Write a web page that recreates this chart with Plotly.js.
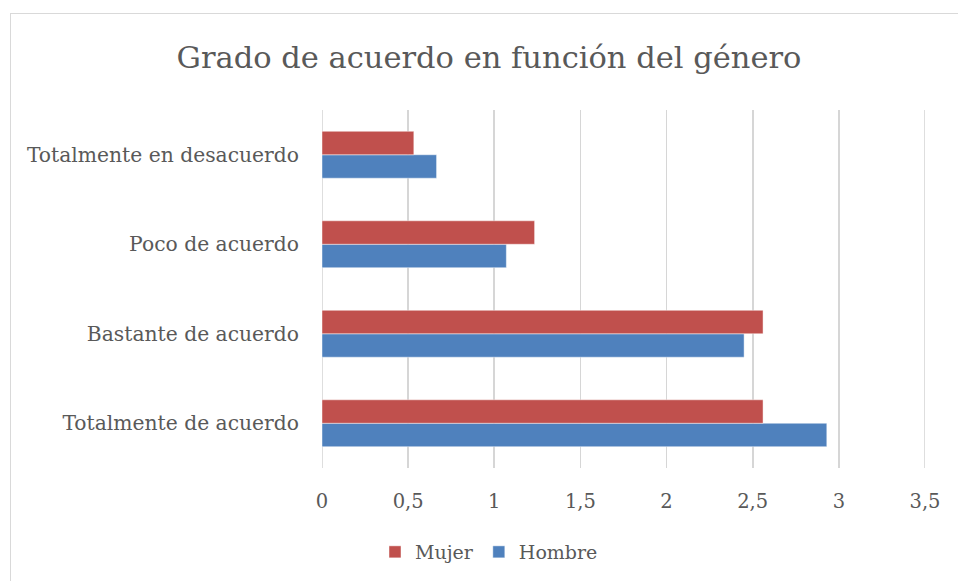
<!DOCTYPE html>
<html>
<head>
<meta charset="utf-8">
<script src="https://cdn.plot.ly/plotly-3.0.1.min.js"></script>
<style>
  html, body { margin: 0; padding: 0; background: #ffffff; overflow: hidden; }
  #chart { width: 958px; height: 581px; }
  #frame { position: absolute; left: 10px; top: 13px; width: 1000px; height: 620px;
           border: 1px solid #d9d9d9; pointer-events: none; }
</style>
</head>
<body>
<div id="chart"></div>
<div id="frame"></div>
<script>
const categories = ["Totalmente de acuerdo", "Bastante de acuerdo", "Poco de acuerdo", "Totalmente en desacuerdo"];
const hombre = [2.93, 2.45, 1.07, 0.665];
const mujer = [2.56, 2.56, 1.234, 0.533];
const xTicks = [0, 0.5, 1, 1.5, 2, 2.5, 3, 3.5];
const titleText = "Grado de acuerdo en función del género";

const FONT = "DejaVu Serif";
const TXT = "#595959";
const GRID = "#D6D6D6";

const traces = [
  { type: "bar", orientation: "h", name: "Hombre", y: categories, x: hombre,
    marker: { color: "#4F81BD", line: { color: "rgba(255,255,255,0.45)", width: 1 } },
    hoverinfo: "x+name" },
  { type: "bar", orientation: "h", name: "Mujer", y: categories, x: mujer,
    marker: { color: "#C0504D", line: { color: "rgba(255,255,255,0.45)", width: 1 } },
    hoverinfo: "x+name" }
];

const layout = {
  width: 958, height: 581, autosize: false,
  separators: ",.",
  paper_bgcolor: "#ffffff", plot_bgcolor: "#ffffff",
  margin: { l: 322, r: 33, t: 110, b: 113, pad: 0 },
  font: { family: FONT, color: TXT, size: 20 },
  title: {
    text: titleText,
    font: { family: FONT, size: 30.5, color: TXT },
    x: 489 / 958, xref: "container", xanchor: "center",
    y: 1 - 57 / 581, yref: "container", yanchor: "middle"
  },
  barmode: "group",
  bargap: 0.476,
  bargroupgap: 0,
  xaxis: {
    range: [0, 3.5],
    tickvals: xTicks,
    ticktext: xTicks.map(v => String(v).replace(".", ",")),
    showgrid: true, gridcolor: GRID, gridwidth: 1.6,
    zeroline: false, showline: false, ticks: "",
    ticklabelstandoff: 19,
    tickfont: { family: FONT, size: 19.5, color: TXT },
    fixedrange: true
  },
  yaxis: {
    type: "category",
    showgrid: false, zeroline: false, showline: false, ticks: "",
    ticklabelstandoff: 22,
    tickfont: { family: FONT, size: 20.3, color: TXT },
    fixedrange: true
  },
  shapes: [
    { type: "line", xref: "x", yref: "paper", x0: xTicks[0], x1: xTicks[0], y0: 0, y1: 1,
      line: { color: GRID, width: 1.6 }, layer: "below" },
    { type: "line", xref: "x", yref: "paper", x0: xTicks[xTicks.length - 1], x1: xTicks[xTicks.length - 1], y0: 0, y1: 1,
      line: { color: GRID, width: 1.6 }, layer: "below" }
  ],
  showlegend: true,
  legend: {
    orientation: "h", traceorder: "reversed",
    x: 489 / 958, xref: "container", xanchor: "center",
    y: 1 - 552 / 581, yref: "container", yanchor: "middle",
    font: { family: FONT, size: 19, color: TXT },
    itemwidth: 30
  }
};

Plotly.newPlot("chart", traces, layout, { displayModeBar: false, staticPlot: true });
</script>
</body>
</html>
